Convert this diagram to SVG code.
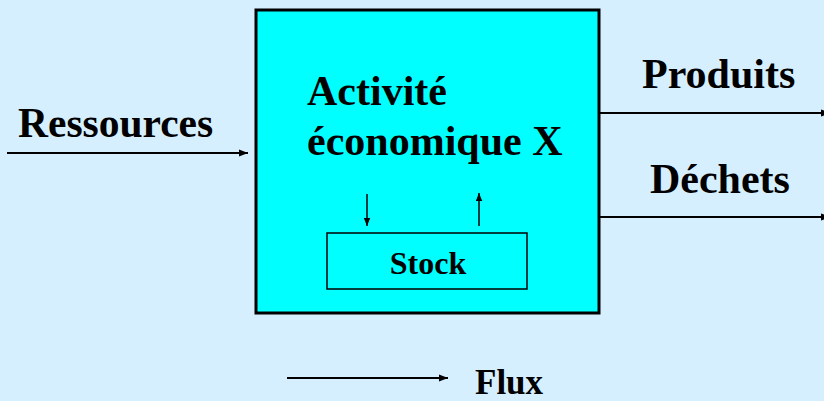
<svg xmlns="http://www.w3.org/2000/svg" width="824" height="401" viewBox="0 0 824 401">
<defs>
<marker id="ah" viewBox="0 0 10 10" refX="10" refY="5" markerWidth="4.5" markerHeight="4.5" orient="auto" markerUnits="strokeWidth">
<path d="M0,1 L10,5 L0,9 z" fill="#000"/>
</marker>
<marker id="ahs" viewBox="0 0 10 10" refX="10" refY="5" markerWidth="5.5" markerHeight="5.5" orient="auto" markerUnits="strokeWidth">
<path d="M0,1 L10,5 L0,9 z" fill="#000"/>
</marker>
</defs>
<style>
.t{font-family:"Liberation Serif","Times New Roman",serif;font-weight:bold;fill:#000}
.c{stroke:#000;fill:none}
</style>
<rect width="824" height="401" fill="#D5EFFF"/>
<g id="activite">
<rect x="256" y="10" width="343" height="303" fill="#00FFFF" stroke="#000" stroke-width="3"/>
<text class="t" x="307" y="105" font-size="42">Activité</text>
<text class="t" x="307" y="155" font-size="42">économique X</text>
</g>
<g id="stock">
<rect x="327" y="233" width="200" height="56" fill="#00FFFF" stroke="#000" stroke-width="1.5"/>
<text class="t" x="428" y="274" font-size="32" text-anchor="middle">Stock</text>
</g>
<g id="labels">
<text class="t" x="18" y="137" font-size="41.5">Ressources</text>
<text class="t" x="642" y="88" font-size="42">Produits</text>
<text class="t" x="650" y="193" font-size="42">Déchets</text>
<text class="t" x="475" y="394" font-size="35">Flux</text>
</g>
<g id="connectors">
<line class="c" x1="7" y1="153" x2="248" y2="153" stroke-width="2" marker-end="url(#ah)"/>
<line class="c" x1="599" y1="113" x2="830" y2="113" stroke-width="2" marker-end="url(#ah)"/>
<line class="c" x1="599" y1="217" x2="830" y2="217" stroke-width="2" marker-end="url(#ah)"/>
<line class="c" x1="367" y1="194" x2="367" y2="226" stroke-width="1.5" marker-end="url(#ahs)"/>
<line class="c" x1="479" y1="226" x2="479" y2="193" stroke-width="1.5" marker-end="url(#ahs)"/>
<line class="c" x1="287" y1="378" x2="448" y2="378" stroke-width="2" marker-end="url(#ah)"/>
</g>
</svg>
